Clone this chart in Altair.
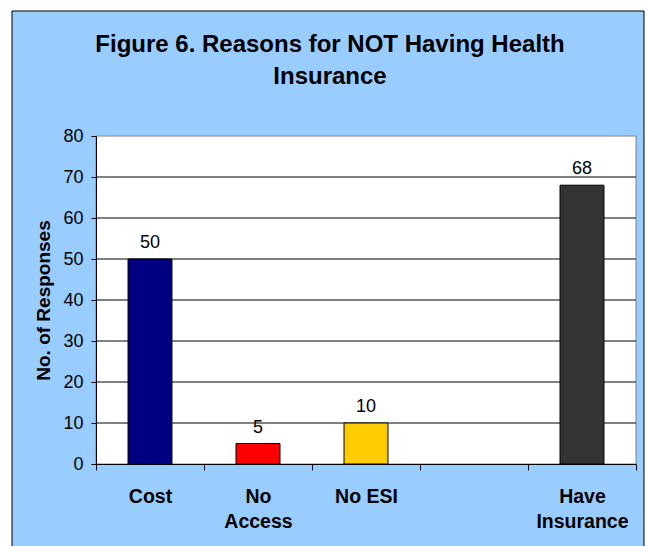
import altair as alt
import pandas as pd

# Survey responses by reason (the fourth slot is intentionally left empty)
categories = ["Cost", "No Access", "No ESI", " ", "Have Insurance"]
responses = [50, 5, 10, None, 68]
bar_colors = ["#000080", "#FF0000", "#FFCC00", "#FFFFFF", "#333333"]
y_ticks = [0, 10, 20, 30, 40, 50, 60, 70, 80]
grid_ticks = [10, 20, 30, 40, 50, 60, 70]

W, H = 540, 328
FONT = "Liberation Sans"

rows = [
    {"category": c, "value": v}
    for c, v in zip(categories, responses)
    if v is not None
]
df = pd.DataFrame(rows)
grid_df = pd.DataFrame({"tick": grid_ticks})
one = pd.DataFrame({"k": [0]})

# one full step per category, so axis ticks fall between categories
x_scale = alt.Scale(domain=categories, paddingInner=0, paddingOuter=0)
y_scale = alt.Scale(domain=[0, 80], nice=False)

label_expr = (
    "datum.label == 'No Access' ? ['No', 'Access'] : "
    "datum.label == 'Have Insurance' ? ['Have', 'Insurance'] : datum.label"
)

x_axis = alt.Axis(
    title=None,
    labelExpr=label_expr,
    labelAngle=0,
    labelFont=FONT,
    labelFontSize=19.5,
    labelFontWeight="bold",
    labelColor="black",
    labelLineHeight=25,
    labelPadding=17,
    labelBaseline="top",
    tickBand="extent",
    tickSize=6,
    tickColor="black",
    domainColor="black",
    grid=False,
    zindex=1,
)

y_axis = alt.Axis(
    title="No. of Responses",
    titleFont=FONT,
    titleFontSize=19,
    titleFontWeight="bold",
    titleColor="black",
    titlePadding=9,
    values=y_ticks,
    labelFont=FONT,
    labelFontSize=18,
    labelColor="black",
    labelPadding=8,
    tickSize=5,
    tickColor="black",
    domainColor="black",
    grid=False,
    zindex=1,
)

# light-blue chart frame
frame = alt.Chart(one).mark_rect(
    fill="#99CCFF", stroke="black", strokeWidth=1
).encode(
    x=alt.value(-84), x2=alt.value(548),
    y=alt.value(-125), y2=alt.value(420),
)

# white plotting area with grey border
plot_bg = alt.Chart(one).mark_rect(
    fill="white", stroke="#808080", strokeWidth=1
).encode(
    x=alt.value(0), x2=alt.value(W),
    y=alt.value(0), y2=alt.value(H),
)

grid = alt.Chart(grid_df).mark_rule(color="black", strokeWidth=1).encode(
    y=alt.Y("tick:Q", scale=y_scale, axis=y_axis),
    x=alt.value(0), x2=alt.value(W),
)

bars = alt.Chart(df).mark_bar(
    stroke="black", strokeWidth=1, width=alt.RelativeBandSize(0.407)
).encode(
    x=alt.X("category:N", scale=x_scale, sort=categories, axis=x_axis),
    y=alt.Y("value:Q", scale=y_scale, axis=y_axis),
    color=alt.Color(
        "category:N",
        scale=alt.Scale(domain=categories, range=bar_colors),
        legend=None,
    ),
)

values_text = alt.Chart(df).mark_text(
    font=FONT, fontSize=18, color="black", baseline="alphabetic", dy=-11
).encode(
    x=alt.X("category:N", scale=x_scale, sort=categories, axis=x_axis),
    y=alt.Y("value:Q", scale=y_scale, axis=y_axis),
    text=alt.Text("value:Q"),
)

chart = alt.layer(frame, plot_bg, grid, bars, values_text).properties(
    width=W,
    height=H,
    title=alt.TitleParams(
        text=["Figure 6. Reasons for NOT Having Health", "Insurance"],
        font=FONT,
        fontSize=24,
        fontWeight="bold",
        color="black",
        anchor="middle",
        frame="group",
        dx=-36,
        dy=78,
        offset=0,
        lineHeight=32,
    ),
    autosize=alt.AutoSizeParams(type="none"),
    padding={"left": 96, "top": 136, "right": 12, "bottom": 82},
    background="white",
).configure_view(stroke=None)

chart.save("out.html", embed_options={"renderer": "svg", "actions": False})
